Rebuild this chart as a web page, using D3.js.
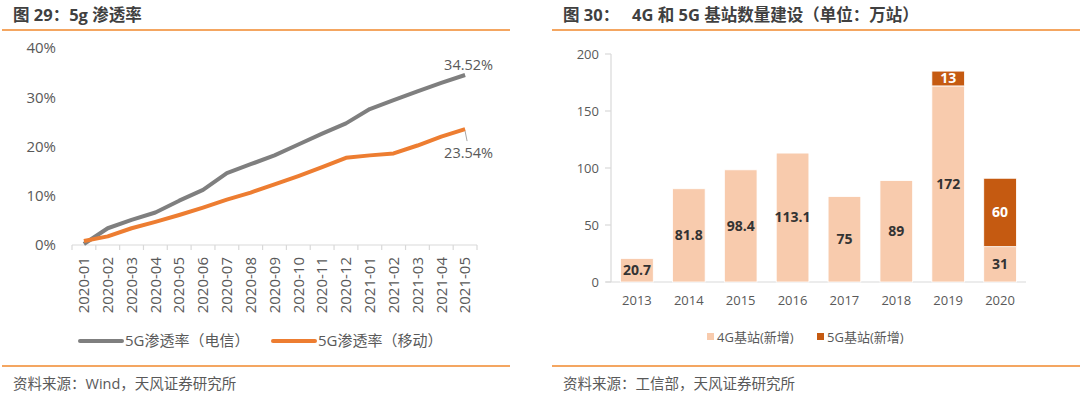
<!DOCTYPE html>
<html>
<head>
<meta charset="utf-8">
<script src="https://cdn.jsdelivr.net/npm/d3@7"></script>
<style>
  body { margin: 0; background: #fff; }
  svg { display: block; font-family: "Open Sans", "Noto Sans CJK SC", sans-serif; }
</style>
</head>
<body>
<script>
// ---- 图29 数据：5G渗透率 ----
var months = ["2020-01","2020-02","2020-03","2020-04","2020-05","2020-06","2020-07","2020-08","2020-09",
              "2020-10","2020-11","2020-12","2021-01","2021-02","2021-03","2021-04","2021-05"];
var telecom = [0.2, 3.4, 5.1, 6.6, 9.0, 11.2, 14.6, 16.4, 18.2, 20.4, 22.6, 24.7, 27.6, 29.4, 31.2, 32.9, 34.52];
var mobile  = [0.8, 1.75, 3.4, 4.7, 6.1, 7.6, 9.2, 10.65, 12.3, 14.0, 15.8, 17.7, 18.2, 18.6, 20.2, 22.0, 23.54];
var pctTicks = [0, 10, 20, 30, 40];
var lineNames = ["5G渗透率（电信）", "5G渗透率（移动）"];

// ---- 图30 数据：4G/5G 基站（万站） ----
var years = ["2013","2014","2015","2016","2017","2018","2019","2020"];
var bs4g = [20.7, 81.8, 98.4, 113.1, 75, 89, 172, 31];
var bs5g = [0, 0, 0, 0, 0, 0, 13, 60];
var countTicks = [0, 50, 100, 150, 200];
var barNames = ["4G基站(新增)", "5G基站(新增)"];

var W = 1080, H = 395;
var ORANGE = "#f0892c", AXIS = "#d9d9d9", TXT = "#595959";

var svg = d3.select("body").append("svg").attr("width", W).attr("height", H);

// 标题与分隔线
function frame(x0, x1, tx, title, source) {
    svg.append("text").attr("x", tx).attr("y", 15).attr("dy", "0.35em").attr("xml:space", "preserve")
        .attr("font-size", 16.5).attr("font-weight", "bold").attr("fill", "#404040").text(title);
    svg.append("line").attr("x1", x0).attr("x2", x1).attr("y1", 30).attr("y2", 30)
        .attr("stroke", ORANGE).attr("stroke-width", 1.5);
    svg.append("line").attr("x1", x0).attr("x2", x1).attr("y1", 366).attr("y2", 366)
        .attr("stroke", ORANGE).attr("stroke-width", 1.5);
    svg.append("text").attr("x", tx).attr("y", 384).attr("dy", "0.35em")
        .attr("font-size", 14.5).attr("fill", TXT).text(source);
}
frame(2, 510, 13, "图 29：5g 渗透率", "资料来源：Wind，天风证券研究所");
frame(552, 1080, 563, "图 30：   4G 和 5G 基站数量建设（单位：万站）", "资料来源：工信部，天风证券研究所");

// ================= 左图：折线 =================
var x1 = d3.scaleBand().domain(months).range([72, 477]);
var y1 = d3.scaleLinear().domain([0, 40]).range([245, 48]);

var g1 = svg.append("g");
g1.selectAll(".ytl").data(pctTicks).enter().append("text")
    .attr("x", 56).attr("y", function (d) { return y1(d); }).attr("dy", "0.35em")
    .attr("text-anchor", "end").attr("font-size", 15).attr("fill", TXT)
    .text(function (d) { return d + "%"; });

g1.append("line").attr("x1", x1.range()[0]).attr("x2", x1.range()[1])
    .attr("y1", y1(0)).attr("y2", y1(0)).attr("stroke", AXIS).attr("stroke-width", 1.2);
var bounds = months.map(function (m) { return x1(m); }).concat([x1.range()[1]]);
g1.selectAll(".xt").data(bounds).enter().append("line")
    .attr("x1", function (d) { return d; }).attr("x2", function (d) { return d; })
    .attr("y1", y1(0)).attr("y2", y1(0) + 5).attr("stroke", AXIS).attr("stroke-width", 1.2);
g1.selectAll(".xtl").data(months).enter().append("text")
    .attr("transform", function (d) { return "translate(" + (x1(d) + x1.bandwidth() / 2) + ",257) rotate(-90)"; })
    .attr("dy", "0.35em").attr("text-anchor", "end").attr("font-size", 15).attr("fill", TXT)
    .text(function (d) { return d; });

var line = d3.line()
    .x(function (d, i) { return x1(months[i]) + x1.bandwidth() / 2; })
    .y(function (d) { return y1(d); });
var series = [{ v: telecom, c: "#7f7f7f" }, { v: mobile, c: "#ed7d31" }];
series.forEach(function (s) {
    g1.append("path").datum(s.v).attr("d", line).attr("fill", "none")
        .attr("stroke", s.c).attr("stroke-width", 4).attr("stroke-linejoin", "round");
});

var last = months.length - 1;
var lx = x1(months[last]) + x1.bandwidth() / 2;
g1.append("text").attr("x", lx + 28).attr("y", y1(telecom[last]) - 10).attr("dy", "0.35em")
    .attr("text-anchor", "end").attr("font-size", 14.5).attr("fill", TXT).text(telecom[last].toFixed(2) + "%");
g1.append("line").attr("x1", lx).attr("y1", y1(mobile[last]) + 2).attr("x2", lx + 2).attr("y2", y1(mobile[last]) + 12)
    .attr("stroke", "#a6a6a6").attr("stroke-width", 1);
g1.append("text").attr("x", lx + 28).attr("y", y1(mobile[last]) + 24).attr("dy", "0.35em")
    .attr("text-anchor", "end").attr("font-size", 14.5).attr("fill", TXT).text(mobile[last].toFixed(2) + "%");

// 图例
var leg1 = [{ x: 80, c: "#7f7f7f" }, { x: 273, c: "#ed7d31" }];
leg1.forEach(function (l, i) {
    g1.append("line").attr("x1", l.x).attr("x2", l.x + 42).attr("y1", 341).attr("y2", 341)
        .attr("stroke", l.c).attr("stroke-width", 4).attr("stroke-linecap", "round");
    g1.append("text").attr("x", l.x + 45).attr("y", 341).attr("dy", "0.35em")
        .attr("font-size", 15).attr("fill", TXT).text(lineNames[i]);
});

// ================= 右图：堆叠柱 =================
var x2 = d3.scaleBand().domain(years).range([611, 1026]).paddingInner(0.37).paddingOuter(0.185);
var y2 = d3.scaleLinear().domain([0, 200]).range([282, 54]);
var C4 = "#f8cbad", C5 = "#c55a11";

var g2 = svg.append("g");
g2.append("line").attr("x1", 611).attr("x2", 611).attr("y1", y2(200)).attr("y2", y2(0))
    .attr("stroke", AXIS).attr("stroke-width", 1.2);
g2.selectAll(".yt").data(countTicks).enter().append("line")
    .attr("x1", 605).attr("x2", 611).attr("y1", function (d) { return y2(d); }).attr("y2", function (d) { return y2(d); })
    .attr("stroke", AXIS).attr("stroke-width", 1.2);
g2.selectAll(".ytl").data(countTicks).enter().append("text")
    .attr("x", 599).attr("y", function (d) { return y2(d); }).attr("dy", "0.35em")
    .attr("text-anchor", "end").attr("font-size", 13).attr("fill", TXT).text(function (d) { return d; });
g2.append("line").attr("x1", 606).attr("x2", 1026).attr("y1", y2(0)).attr("y2", y2(0))
    .attr("stroke", AXIS).attr("stroke-width", 1.2);
g2.selectAll(".xtl").data(years).enter().append("text")
    .attr("x", function (d) { return x2(d) + x2.bandwidth() / 2; }).attr("y", 300).attr("dy", "0.35em")
    .attr("text-anchor", "middle").attr("font-size", 13).attr("fill", TXT).text(function (d) { return d; });

var stacked = d3.stack().keys(["a", "b"])(years.map(function (y, i) { return { a: bs4g[i], b: bs5g[i] }; }));
var segColors = [C4, C5], lblColors = ["#333333", "#ffffff"];
stacked.forEach(function (layer, k) {
    var gg = g2.append("g");
    gg.selectAll("rect").data(layer).enter().filter(function (d) { return d[1] > d[0]; }).append("rect")
        .attr("x", function (d) { return x2(years[layer.indexOf(d)]); })
        .attr("y", function (d) { return y2(d[1]); })
        .attr("width", x2.bandwidth())
        .attr("height", function (d) { return y2(d[0]) - y2(d[1]); })
        .attr("fill", segColors[k]).attr("stroke", "#fff").attr("stroke-width", 0.8);
    gg.selectAll("text").data(layer).enter().filter(function (d) { return d[1] > d[0]; }).append("text")
        .attr("x", function (d) { return x2(years[layer.indexOf(d)]) + x2.bandwidth() / 2; })
        .attr("y", function (d) { return (y2(d[0]) + y2(d[1])) / 2; }).attr("dy", "0.35em")
        .attr("text-anchor", "middle").attr("font-size", 14).attr("font-weight", "bold")
        .attr("fill", lblColors[k]).text(function (d) { return d3.format("~g")(+(d[1] - d[0]).toFixed(1)); });
});

// 图例
var leg2 = [{ x: 707, c: C4 }, { x: 817, c: C5 }];
leg2.forEach(function (l, i) {
    g2.append("rect").attr("x", l.x).attr("y", 333).attr("width", 7).attr("height", 7).attr("fill", l.c);
    g2.append("text").attr("x", l.x + 10).attr("y", 337).attr("dy", "0.35em")
        .attr("font-size", 13).attr("fill", TXT).text(barNames[i]);
});
</script>
</body>
</html>
